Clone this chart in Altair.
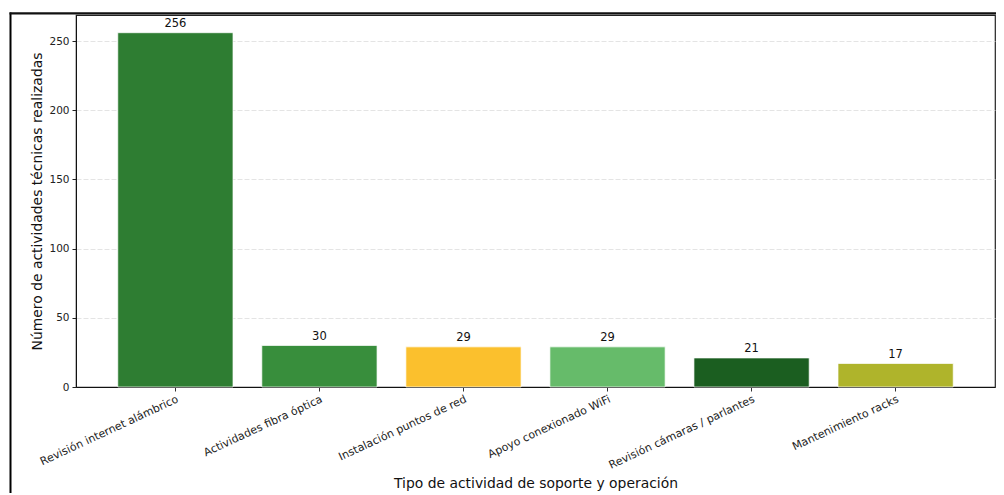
import altair as alt
import pandas as pd

categories = [
    "Revisión internet alámbrico",
    "Actividades fibra óptica",
    "Instalación puntos de red",
    "Apoyo conexionado WiFi",
    "Revisión cámaras / parlantes",
    "Mantenimiento racks",
]
values = [256, 30, 29, 29, 21, 17]
colors = ["#2E7D32", "#388E3C", "#FBC02D", "#66BB6A", "#1B5E20", "#AFB42B"]
y_ticks = [0, 50, 100, 150, 200, 250]

df = pd.DataFrame({"cat": categories, "val": values})

FONT = "DejaVu Sans"
W, H = 919, 372

x_enc = alt.X(
    "cat:N",
    sort=None,
    scale=alt.Scale(paddingInner=0.2, paddingOuter=0.29),
    axis=alt.Axis(
        title="Tipo de actividad de soporte y operación",
        labelAngle=-25,
        labelAlign="right",
        labelBaseline="top",
        labelFontSize=11,
        labelColor="#222",
        labelPadding=2,
        tickSize=4,
        tickColor="#333",
        domainColor="#111",
        titleFontSize=13.9,
        titleFontWeight="normal",
        titleColor="#111",
        titleY=100,
        titleBaseline="alphabetic",
        grid=False,
    ),
)
y_enc = alt.Y(
    "val:Q",
    scale=alt.Scale(domain=[0, 268.8], nice=False, zero=True),
    axis=alt.Axis(
        title="Número de actividades técnicas realizadas",
        values=y_ticks,
        labelFontSize=10.5,
        labelColor="#222",
        labelPadding=3,
        tickSize=4,
        tickColor="#222",
        domainColor="#111",
        titleFontSize=13.9,
        titleFontWeight="normal",
        titleColor="#111",
        titleX=-39,
        titleBaseline="middle",
        grid=True,
        gridColor="#dddddd",
        gridDash=[5, 2],
        gridWidth=0.8,
    ),
)

bars = alt.Chart(df).mark_bar(stroke="white", strokeWidth=1, strokeOpacity=0.7).encode(
    x=x_enc,
    y=y_enc,
    color=alt.Color("cat:N", scale=alt.Scale(domain=categories, range=colors), legend=None),
)

labels = alt.Chart(df).mark_text(
    baseline="alphabetic", dy=-5.5, fontSize=11.5, font=FONT, color="#111"
).encode(
    x=alt.X("cat:N", sort=None),
    y=alt.Y("val:Q"),
    text=alt.Text("val:Q"),
)

frame_df = pd.DataFrame({"k": [0]})
frame_left = alt.Chart(frame_df).mark_rule(color="#000", strokeWidth=2).encode(
    x=alt.value(-65.5), y=alt.value(-2.5), y2=alt.value(H + 120)
)
frame_top = alt.Chart(frame_df).mark_rule(color="#111", strokeWidth=2.2).encode(
    x=alt.value(-66.5), x2=alt.value(W + 4), y=alt.value(-1.6)
)

chart = (
    alt.layer(bars, labels, frame_left, frame_top)
    .properties(
        width=W,
        height=H,
        autosize=alt.AutoSizeParams(type="none"),
        padding={"left": 68, "top": 7, "right": 1, "bottom": 106},
    )
    .configure(font=FONT)
    .configure_view(stroke="#222", strokeWidth=1.2)
)

chart.save("out.html", embed_options={"renderer": "svg", "actions": False})
